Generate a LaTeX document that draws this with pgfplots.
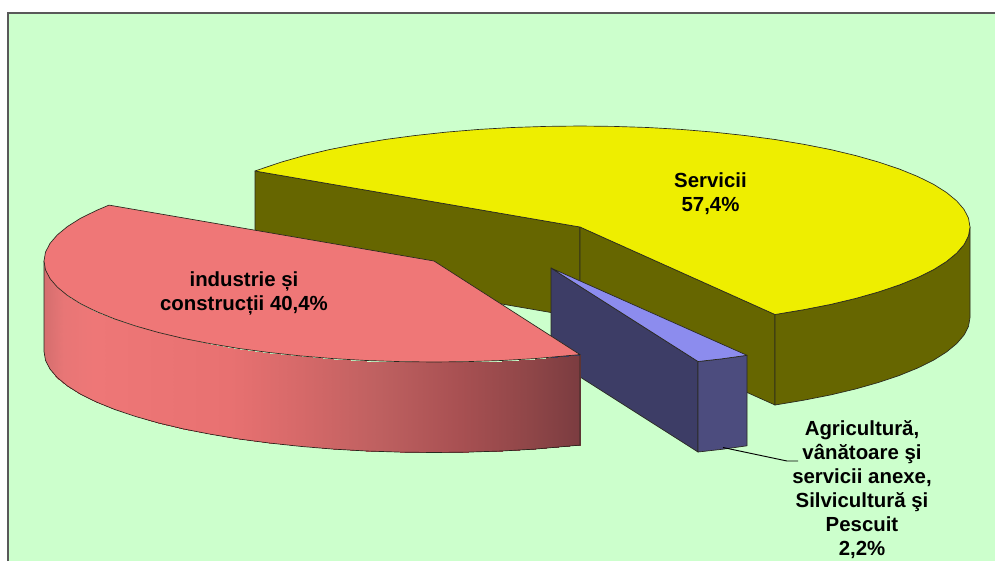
\documentclass[border=0pt]{standalone}
\usepackage{fontspec}
\setmainfont{Liberation Sans}
\usepackage{pgfplots}
\pgfplotsset{compat=1.18}
\definecolor{bggreen}{RGB}{204,255,204}
\definecolor{yeltop}{RGB}{238,238,0}
\definecolor{yelside}{RGB}{102,102,0}
\definecolor{redtop}{RGB}{239,119,119}
\definecolor{blutop}{RGB}{140,140,238}
\definecolor{bluside}{RGB}{61,61,102}
\definecolor{blurim}{RGB}{76,76,126}
\definecolor{edge}{RGB}{40,40,30}
\tikzset{
	face/.style = {draw=edge,line width=0.5pt,line join=round,mark=none},
	lab/.style  = {font=\bfseries\fontsize{15.3}{18}\selectfont,align=center,text=black},
}
\begin{document}
\begin{tikzpicture}
\begin{axis}[
	scale only axis, width=746.25pt, height=420.75pt,
	xmin=0, xmax=995, ymin=0, ymax=561, y dir=reverse,
	hide axis,
	colormap={redrim}{rgb255(0pt)=(212,110,110); rgb255(20pt)=(232,118,118);
		rgb255(50pt)=(238,119,119); rgb255(186pt)=(232,113,113);
		rgb255(256pt)=(214,105,105); rgb255(336pt)=(190,96,96);
		rgb255(416pt)=(168,80,82); rgb255(486pt)=(143,70,72);
		rgb255(536pt)=(123,60,64)},
	colormap name=redrim,
	point meta min=44, point meta max=580,
	]
	%% page, background and frame
	\addplot[fill=white,draw=none,mark=none] coordinates {(0,0)(995,0)(995,561)(0,561)} -- cycle;
	\addplot[fill=bggreen,draw=none,mark=none] coordinates {(8,13)(995,13)(995,561)(8,561)} -- cycle;
	\addplot[draw=black!65,line width=1pt,mark=none] coordinates {(8,561)(8,13)(995,13)};

	%% Servicii: faces, rim, top
	\addplot[fill=yelside,face] coordinates {(255,171)(580,227)(580,317.5)(255,261.5)} -- cycle;
	\addplot[fill=yelside,face] coordinates {(580,227)(775,314.5)(775,405)(580,317.5)} -- cycle;
	\addplot[fill=yelside,face] coordinates {
		(970,227)(968.5,235.8)(964.1,244.5)(956.7,253.1)(946.5,261.5)(933.5,269.7)
		(917.7,277.5)(899.5,284.9)(878.7,291.9)(855.8,298.4)(830.7,304.4)(803.7,309.7)(775,314.5)
		(775,405)(803.7,400.2)(830.7,394.9)(855.8,388.9)(878.7,382.4)(899.5,375.4)
		(917.7,368)(933.5,360.2)(946.5,352)(956.7,343.6)(964.1,335)(968.5,326.3)(970,317.5)} -- cycle;
	\addplot[fill=yeltop,face] coordinates {
		(255,171)(260.5,169.1)(281.3,162.1)(304.2,155.6)(329.3,149.6)(356.3,144.3)(385,139.5)
		(415.2,135.5)(446.6,132.1)(479.1,129.4)(512.3,127.5)(546,126.4)(580,126)
		(614,126.4)(647.7,127.5)(680.9,129.4)(713.4,132.1)(744.8,135.5)(775,139.5)
		(803.7,144.3)(830.7,149.6)(855.8,155.6)(878.7,162.1)(899.5,169.1)(917.7,176.5)
		(933.5,184.3)(946.5,192.5)(956.7,200.9)(964.1,209.5)(968.5,218.2)(970,227)
		(968.5,235.8)(964.1,244.5)(956.7,253.1)(946.5,261.5)(933.5,269.7)(917.7,277.5)
		(899.5,284.9)(878.7,291.9)(855.8,298.4)(830.7,304.4)(803.7,309.7)(775,314.5)(580,227)} -- cycle;

	%% Agricultura: side, rim, top
	\addplot[fill=bluside,face] coordinates {(551,268)(698,361.5)(698,452)(551,358.5)} -- cycle;
	\addplot[fill=blurim,face] coordinates {(698,361.5)(722,358.8)(747,355.3)(747,445.8)(722,449.3)(698,452)} -- cycle;
	\addplot[fill=blutop,face] coordinates {(551,268)(698,361.5)(722,358.8)(747,355.3)} -- cycle;

	%% Industrie: rim with gradient, one quad per strip, outline, top
	\addplot[patch,patch type=rectangle,shader=interp,point meta=x] coordinates {
		(44,261)(45.5,269.8)(45.5,360.3)(44,351.5)
		(45.5,269.8)(49.9,278.5)(49.9,369)(45.5,360.3)
		(49.9,278.5)(57.3,287.1)(57.3,377.6)(49.9,369)
		(57.3,287.1)(67.5,295.5)(67.5,386)(57.3,377.6)
		(67.5,295.5)(80.5,303.7)(80.5,394.2)(67.5,386)
		(80.5,303.7)(96.3,311.5)(96.3,402)(80.5,394.2)
		(96.3,311.5)(114.5,318.9)(114.5,409.4)(96.3,402)
		(114.5,318.9)(135.3,325.9)(135.3,416.4)(114.5,409.4)
		(135.3,325.9)(158.2,332.4)(158.2,422.9)(135.3,416.4)
		(158.2,332.4)(183.3,338.4)(183.3,428.9)(158.2,422.9)
		(183.3,338.4)(210.3,343.7)(210.3,434.2)(183.3,428.9)
		(210.3,343.7)(239,348.5)(239,439)(210.3,434.2)
		(239,348.5)(269.2,352.5)(269.2,443)(239,439)
		(269.2,352.5)(300.6,355.9)(300.6,446.4)(269.2,443)
		(300.6,355.9)(333.1,358.6)(333.1,449.1)(300.6,446.4)
		(333.1,358.6)(366.3,360.5)(366.3,451)(333.1,449.1)
		(366.3,360.5)(400,361.6)(400,452.1)(366.3,451)
		(400,361.6)(434,362)(434,452.5)(400,452.1)
		(434,362)(468,361.6)(468,452.1)(434,452.5)
		(468,361.6)(501.7,360.5)(501.7,451)(468,452.1)
		(501.7,360.5)(534.9,358.6)(534.9,449.1)(501.7,451)
		(534.9,358.6)(580,354.6)(580,445.1)(534.9,449.1)
	};
	\addplot[face] coordinates {
		(44,261)(44,351.5)(45.5,360.3)(49.9,369)(57.3,377.6)(67.5,386)(80.5,394.2)(96.3,402)
		(114.5,409.4)(135.3,416.4)(158.2,422.9)(183.3,428.9)(210.3,434.2)(239,439)(269.2,443)
		(300.6,446.4)(333.1,449.1)(366.3,451)(400,452.1)(434,452.5)(468,452.1)(501.7,451)
		(534.9,449.1)(580,445.1)(580,354.6)};
	\addplot[fill=redtop,face] coordinates {
		(109,205.1)(96.3,210.5)(80.5,218.3)(67.5,226.5)(57.3,234.9)(49.9,243.5)(45.5,252.2)(44,261)
		(45.5,269.8)(49.9,278.5)(57.3,287.1)(67.5,295.5)(80.5,303.7)(96.3,311.5)(114.5,318.9)
		(135.3,325.9)(158.2,332.4)(183.3,338.4)(210.3,343.7)(239,348.5)(269.2,352.5)(300.6,355.9)
		(333.1,358.6)(366.3,360.5)(400,361.6)(434,362)(468,361.6)(501.7,360.5)(534.9,358.6)
		(580,354.6)(434,261)} -- cycle;

	%% leader line
	\addplot[draw=black,line width=0.7pt,mark=none] coordinates {(723,447.5)(787,461)(798,461)};

	%% labels
	\node[lab] at (axis cs:710.5,193.5) {Servicii\\57,4\%};
	\node[lab] at (axis cs:244,293.5) {industrie și\\construcții 40,4\%};
	\node[lab] at (axis cs:862,490) {Agricultură,\\vânătoare şi\\servicii anexe,\\Silvicultură şi\\Pescuit\\2,2\%};
\end{axis}
\end{tikzpicture}
\end{document}
